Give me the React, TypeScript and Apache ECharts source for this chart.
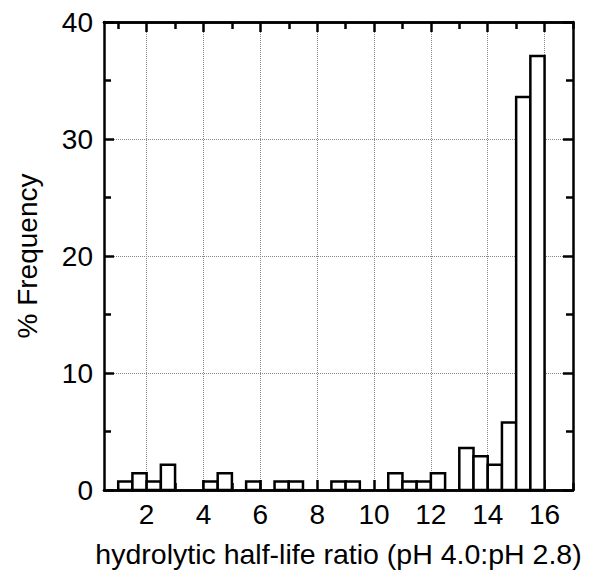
import React, { useEffect, useRef } from "react";
import * as echarts from "echarts";

const binStart = [1, 1.5, 2, 2.5, 3, 3.5, 4, 4.5, 5, 5.5, 6, 6.5, 7, 7.5, 8, 8.5, 9, 9.5, 10, 10.5, 11, 11.5, 12, 12.5, 13, 13.5, 14, 14.5, 15, 15.5];
const binWidth = 0.5;
const frequency = [0.72, 1.44, 0.72, 2.16, 0, 0, 0.72, 1.44, 0, 0.72, 0, 0.72, 0.72, 0, 0, 0.72, 0.72, 0, 0, 1.44, 0.72, 0.72, 1.44, 0, 3.6, 2.88, 2.16, 5.76, 33.6, 37.1];
const xMajorTicks = [2, 4, 6, 8, 10, 12, 14, 16];
const xMinorTicks = [1, 3, 5, 7, 9, 11, 13, 15, 17];
const xMin = 0.5;
const xMax = 17;
const yMin = 0;
const yMax = 40;
const yInterval = 10;

const FONT = "'Liberation Sans', Arial, Helvetica, sans-serif";

export default function App() {
  const ref = useRef<HTMLDivElement>(null);
  useEffect(() => {
    if (!ref.current) return;
    const chart = echarts.init(ref.current, null, { renderer: "svg" });
    const axisLine = { show: true, onZero: false, lineStyle: { color: "#000", width: 2.5 } };
    const grid = { type: "dotted", color: "#888", width: 1 };
    const xBase = (pos: string, ticks: number[], len: number, labels: boolean, split: boolean, name?: string) => ({
      type: "value",
      position: pos,
      min: xMin,
      max: xMax,
      axisLine,
      axisTick: { show: true, inside: true, length: len, customValues: ticks, lineStyle: { color: "#000", width: 2.5 } },
      axisLabel: labels
        ? { show: true, customValues: ticks, color: "#000", fontSize: 28, fontFamily: FONT, margin: 10 }
        : { show: false },
      splitLine: split ? { show: true, lineStyle: grid } : { show: false },
      name: name,
      nameLocation: "middle",
      nameGap: 49,
      nameTextStyle: { color: "#000", fontSize: 28.5, fontFamily: FONT },
    });
    const yBase = (pos: string, labels: boolean, split: boolean, name?: string) => ({
      type: "value",
      position: pos,
      min: yMin,
      max: yMax,
      interval: yInterval,
      axisLine,
      axisTick: { show: true, inside: true, length: 10, lineStyle: { color: "#000", width: 2.5 } },
      minorTick: { show: true, splitNumber: 2, length: 7, lineStyle: { color: "#000", width: 2.5 } },
      axisLabel: labels ? { show: true, color: "#000", fontSize: 28, fontFamily: FONT, margin: 11 } : { show: false },
      splitLine: split ? { show: true, lineStyle: grid } : { show: false },
      name: name,
      nameLocation: "middle",
      nameGap: 63,
      nameTextStyle: { color: "#000", fontSize: 28, fontFamily: FONT },
    });
    const data = binStart.map((s, i) => [s, s + binWidth, frequency[i]]);
    chart.setOption({
      animation: false,
      backgroundColor: "#fff",
      grid: { left: 104, top: 22, right: 30, bottom: 91, containLabel: false },
      xAxis: [
        xBase("bottom", xMajorTicks, 10, true, true, "hydrolytic half-life ratio (pH 4.0:pH 2.8)"),
        xBase("bottom", xMinorTicks, 7, false, false),
        xBase("top", xMajorTicks, 10, false, false),
        xBase("top", xMinorTicks, 7, false, false),
      ],
      yAxis: [yBase("left", true, true, "% Frequency"), yBase("right", false, false)],
      series: [
        {
          type: "custom",
          xAxisIndex: 0,
          yAxisIndex: 0,
          data,
          renderItem: (params: any, api: any) => {
            const x0 = api.value(0);
            const x1 = api.value(1);
            const y = api.value(2);
            if (!y) return null;
            const p0 = api.coord([x0, 0]);
            const p1 = api.coord([x1, y]);
            return {
              type: "rect",
              shape: { x: p0[0], y: p1[1], width: p1[0] - p0[0], height: p0[1] - p1[1] },
              style: { fill: "#fff", stroke: "#000", lineWidth: 2.5 },
            };
          },
        },
      ],
    });
    return () => chart.dispose();
  }, []);
  return <div ref={ref} style={{ width: 603, height: 581, margin: -8 }} />;
}
